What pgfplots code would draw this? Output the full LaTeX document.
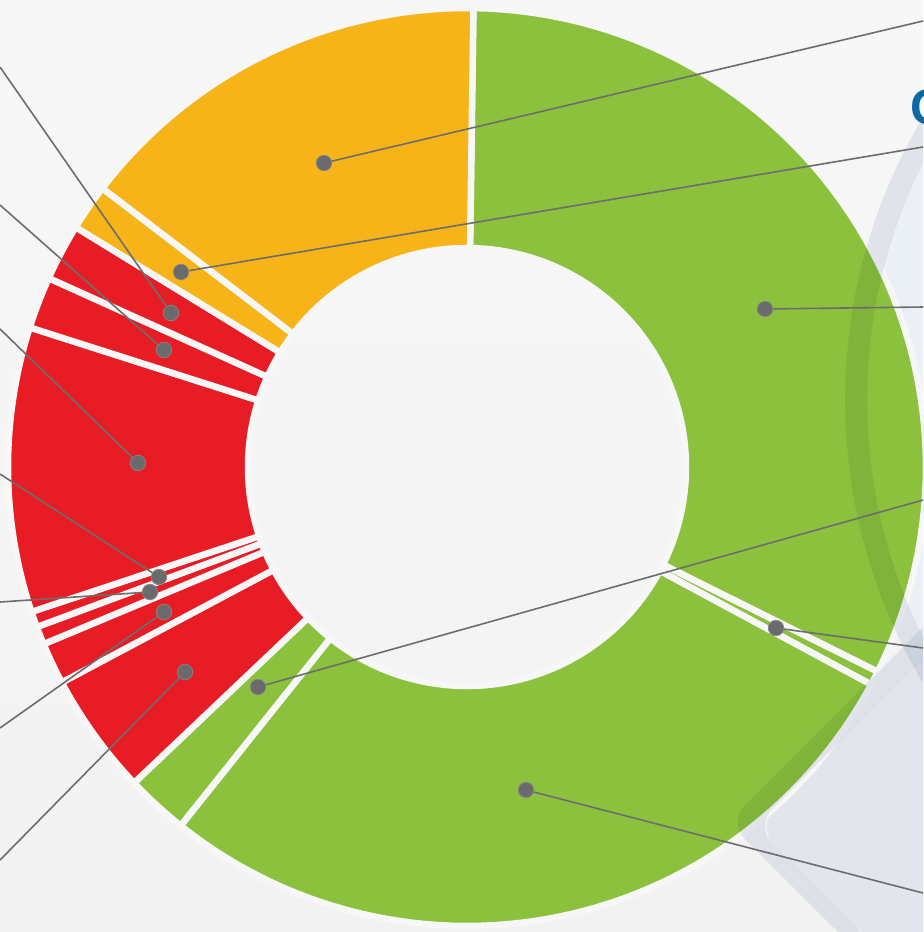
\documentclass[border=0pt]{standalone}
\usepackage{pgfplots}
\pgfplotsset{compat=1.18}
\usepackage{fontspec}
\setmainfont{Liberation Sans}
\definecolor{cgreen}{HTML}{8BC13D}
\definecolor{cred}{HTML}{E81C24}
\definecolor{corange}{HTML}{F7B418}
\definecolor{cgap}{HTML}{F7F7F7}
\definecolor{cline}{HTML}{6D6D70}
\definecolor{cdot}{HTML}{6B6B6E}
\definecolor{cdotb}{HTML}{8A8A8D}
\definecolor{cbandm}{HTML}{E9EDF3}
\definecolor{cunder}{HTML}{E2E5EC}
\definecolor{cunderl}{HTML}{EAF0F6}
\definecolor{cblue}{HTML}{0B6AA2}
% one ring segment: start angle, end angle (degrees clockwise from 12 o'clock), colour
\newcommand{\seg}[3]{%
 \addplot[fill=#3, draw=cgap, line width=3.25pt, line join=miter, variable=\t,
   samples at={0,1,...,60,100,101,...,160,200}]
 ({467+(or(\t<80,\t>180) ? 459 : 219)*sin(#1+(#2-#1)*((\t<80) ? \t : max(160-\t,0))/60)},
  {467-(or(\t<80,\t>180) ? 459 : 219)*cos(#1+(#2-#1)*((\t<80) ? \t : max(160-\t,0))/60)});}
\begin{document}
\begin{tikzpicture}
\begin{axis}[x=0.5pt, y=0.5pt, xmin=0, xmax=923, ymin=0, ymax=932, y dir=reverse,
  hide axis, clip=true]
% background
\addplot[draw=none, top color=white!97!black, bottom color=white!95!black] coordinates {(0,0) (923,0) (923,932) (0,932) (0,0)};
% decorative shapes under the ring
\addplot[draw=none, fill=cunderl, domain=90:270, samples=120] ({1398+531*cos(x)},{400+531*sin(x)});
\addplot[draw=none, fill=cunder, rounded corners=14pt] coordinates {(1005,576) (755,826) (873,944) (1200,994) (1005,576)};
% ring segments
\seg{0.8}{116.5}{cgreen}
\seg{116.5}{118.3}{cgreen}
\seg{118.3}{218.6}{cgreen}
\seg{218.6}{226.5}{cgreen}
\seg{226.5}{242.0}{cred}
\seg{242.0}{247.3}{cred}
\seg{247.3}{249.6}{cred}
\seg{249.6}{251.6}{cred}
\seg{251.6}{287.7}{cred}
\seg{287.7}{294.3}{cred}
\seg{294.3}{301.5}{cred}
\seg{301.5}{307.4}{corange}
\seg{307.4}{360.8}{corange}
% decorative bands over the ring
\addplot[draw=none, fill=cbandm, blend mode=multiply, variable=\t, samples at={0,1,...,60,100,101,...,160}]
 ({1398+((\t<80) ? 553 : 531)*cos(110+140*((\t<80) ? \t : 160-\t)/60)},
  {400+((\t<80) ? 553 : 531)*sin(110+140*((\t<80) ? \t : 160-\t)/60)});
\addplot[draw=none, fill=cbandm, blend mode=multiply, rounded corners=12pt] coordinates {(990,560) (728,822) (850,944) (873,944) (755,826) (1005,576) (990,560)};
% leader lines
\addplot[cline, line width=0.8pt] coordinates {(324,163) (923,21)};
\addplot[cline, line width=0.8pt] coordinates {(181,272) (923,147)};
\addplot[cline, line width=0.8pt] coordinates {(765,309) (923,307)};
\addplot[cline, line width=0.8pt] coordinates {(776,628) (923,648)};
\addplot[cline, line width=0.8pt] coordinates {(526,790) (923,893)};
\addplot[cline, line width=0.8pt] coordinates {(258,687) (923,500)};
\addplot[cline, line width=0.8pt] coordinates {(171,313) (0,67)};
\addplot[cline, line width=0.8pt] coordinates {(164,350) (0,205)};
\addplot[cline, line width=0.8pt] coordinates {(138,463) (0,329)};
\addplot[cline, line width=0.8pt] coordinates {(159,577) (0,474)};
\addplot[cline, line width=0.8pt] coordinates {(150,592) (0,602)};
\addplot[cline, line width=0.8pt] coordinates {(164,612) (0,728)};
\addplot[cline, line width=0.8pt] coordinates {(185,672) (0,860)};
% dots
\addplot[only marks, mark=*, mark size=3.9pt, mark options={fill=cdot, draw=cdotb, line width=0.3pt}] coordinates {
 (324,163) (181,272) (765,309) (776,628) (526,790) (258,687) (171,313)
 (164,350) (138,463) (159,577) (150,592) (164,612) (185,672)};
\node[anchor=base west, inner sep=0pt, text=cblue, font=\bfseries\fontsize{25}{25}\selectfont] at (axis cs:910,124) {C};
\end{axis}
\pgfresetboundingbox
\path (current axis.south west) rectangle (current axis.north east);
\end{tikzpicture}
\end{document}
